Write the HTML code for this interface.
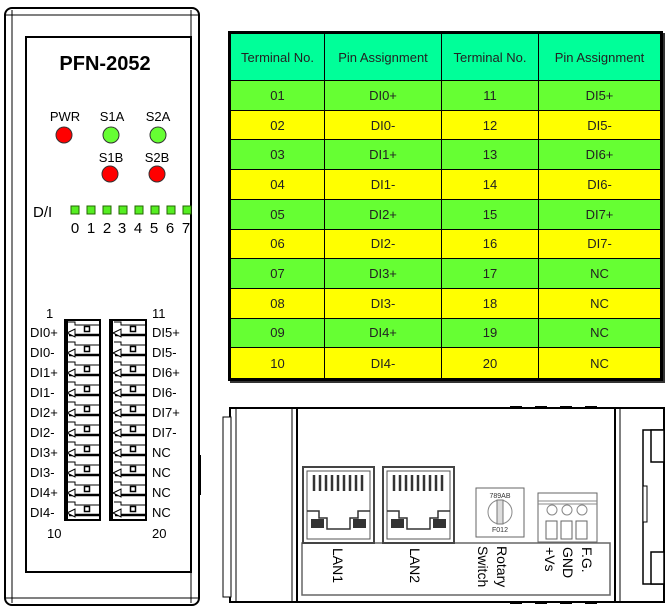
<!DOCTYPE html>
<html><head><meta charset="utf-8"><style>
body{margin:0;width:670px;height:608px;background:#fff;position:relative;overflow:hidden;font-family:"Liberation Sans",Arial,sans-serif}
svg{position:absolute;left:0;top:0}
table{position:absolute;left:228px;top:31px;width:435px;height:350px;border-collapse:collapse;border:3px solid #000;font-size:13px;box-shadow:2px 2px 0 #333;table-layout:fixed}
td{border:1px solid #000;text-align:center;color:#222;padding:0}
tr.h td{background:#00ff99;height:46px}
tr.g td{background:#66ff33}
tr.y td{background:#ffff00}
</style></head><body>
<svg width="670" height="608" viewBox="0 0 670 608" font-family="Liberation Sans, Arial, sans-serif">
<defs>
<g id="pL">
 <polyline points="68,2 75,2 75,5 100,5" fill="none" stroke="#000" stroke-width="1"/>
 <line x1="69" y1="15" x2="100" y2="15" stroke="#000" stroke-width="2.5"/>
 <polygon points="67,13 75,9 75,17" fill="#fff" stroke="#000" stroke-width="1"/>
 <rect x="84.5" y="6.5" width="5" height="5" fill="#fff" stroke="#000" stroke-width="1.5"/>
</g>
<g id="jack">
 <rect x="0" y="0" width="71" height="76" fill="#fff" stroke="#444" stroke-width="2"/>
 <rect x="4" y="4" width="63" height="68" fill="none" stroke="#555" stroke-width="1"/>
 <g stroke="#333" stroke-width="2.5">
  <line x1="11" y1="8" x2="11" y2="24"/><line x1="17" y1="8" x2="17" y2="24"/><line x1="23" y1="8" x2="23" y2="24"/><line x1="29" y1="8" x2="29" y2="24"/><line x1="35" y1="8" x2="35" y2="24"/><line x1="41" y1="8" x2="41" y2="24"/><line x1="47" y1="8" x2="47" y2="24"/><line x1="53" y1="8" x2="53" y2="24"/><line x1="59" y1="8" x2="59" y2="24"/>
 </g>
 <polyline points="4,44 16,44 16,51 24,51 24,62 47,62 47,51 55,51 55,44 67,44" fill="none" stroke="#333" stroke-width="1.5"/>
 <rect x="8" y="52" width="13" height="9" fill="#333"/><rect x="50" y="52" width="13" height="9" fill="#333"/>
</g>
</defs>
<rect x="5" y="8" width="194" height="597" rx="7" fill="#fff" stroke="#000" stroke-width="2"/>
<line x1="5" y1="15" x2="199" y2="15" stroke="#000" stroke-width="1"/>
<line x1="5" y1="598" x2="199" y2="598" stroke="#000" stroke-width="1"/>
<line x1="12" y1="10" x2="12" y2="603" stroke="#000" stroke-width="1"/>
<line x1="191" y1="10" x2="191" y2="603" stroke="#000" stroke-width="1"/>
<rect x="26" y="37" width="165" height="535" fill="#fff" stroke="#000" stroke-width="2"/>
<rect x="198" y="455" width="3" height="40" fill="#000"/>
<text x="105" y="70" font-size="20" font-weight="bold" text-anchor="middle">PFN-2052</text>
<g font-size="13" text-anchor="middle" fill="#000">
<text x="65" y="121">PWR</text><text x="112" y="121">S1A</text><text x="158" y="121">S2A</text>
<text x="111" y="162">S1B</text><text x="157" y="162">S2B</text>
</g>
<g stroke="#333" stroke-width="1">
<circle cx="64" cy="135" r="8" fill="#ff0000"/><circle cx="111" cy="135" r="8" fill="#66ff33"/><circle cx="158" cy="135" r="8" fill="#66ff33"/>
<circle cx="110" cy="174" r="8" fill="#ff0000"/><circle cx="157" cy="174" r="8" fill="#ff0000"/>
</g>
<text x="33" y="217" font-size="15">D/I</text>
<g fill="#55ee22" stroke="#226600" stroke-width="1">
<rect x="71" y="206" width="8" height="8"/><rect x="87" y="206" width="8" height="8"/><rect x="103" y="206" width="8" height="8"/><rect x="119" y="206" width="8" height="8"/><rect x="135" y="206" width="8" height="8"/><rect x="151" y="206" width="8" height="8"/><rect x="167" y="206" width="8" height="8"/><rect x="183" y="206" width="8" height="8"/>
</g>
<g font-size="15" text-anchor="middle"><text x="75" y="233">0</text><text x="91" y="233">1</text><text x="107" y="233">2</text><text x="122" y="233">3</text><text x="138" y="233">4</text><text x="154" y="233">5</text><text x="170" y="233">6</text><text x="186" y="233">7</text></g>
<rect x="65" y="320" width="35" height="200" fill="#fff" stroke="#000" stroke-width="2"/>
<rect x="110" y="320" width="36" height="200" fill="#fff" stroke="#000" stroke-width="2"/>
<line x1="67" y1="320" x2="67" y2="520" stroke="#000" stroke-width="2"/>
<line x1="112" y1="320" x2="112" y2="520" stroke="#000" stroke-width="2"/>
<g>
<use href="#pL" y="320"/><use href="#pL" y="340"/><use href="#pL" y="360"/><use href="#pL" y="380"/><use href="#pL" y="400"/><use href="#pL" y="420"/><use href="#pL" y="440"/><use href="#pL" y="460"/><use href="#pL" y="480"/><use href="#pL" y="500"/>
<use href="#pL" x="46" y="320"/><use href="#pL" x="46" y="340"/><use href="#pL" x="46" y="360"/><use href="#pL" x="46" y="380"/><use href="#pL" x="46" y="400"/><use href="#pL" x="46" y="420"/><use href="#pL" x="46" y="440"/><use href="#pL" x="46" y="460"/><use href="#pL" x="46" y="480"/><use href="#pL" x="46" y="500"/>
</g>
<g font-size="13">
<text x="46" y="318">1</text><text x="152" y="318">11</text>
<text x="30" y="337">DI0+</text><text x="30" y="357">DI0-</text><text x="30" y="377">DI1+</text><text x="30" y="397">DI1-</text><text x="30" y="417">DI2+</text><text x="30" y="437">DI2-</text><text x="30" y="457">DI3+</text><text x="30" y="477">DI3-</text><text x="30" y="497">DI4+</text><text x="30" y="517">DI4-</text>
<text x="152" y="337">DI5+</text><text x="152" y="357">DI5-</text><text x="152" y="377">DI6+</text><text x="152" y="397">DI6-</text><text x="152" y="417">DI7+</text><text x="152" y="437">DI7-</text><text x="152" y="457">NC</text><text x="152" y="477">NC</text><text x="152" y="497">NC</text><text x="152" y="517">NC</text>
<text x="47" y="538">10</text><text x="152" y="538">20</text>
</g>
<rect x="230" y="408" width="434" height="194" fill="#fff" stroke="#000" stroke-width="2"/>
<rect x="223" y="417" width="8" height="180" fill="#fff" stroke="#000" stroke-width="1"/>
<line x1="236" y1="408" x2="236" y2="602" stroke="#000" stroke-width="1"/>
<line x1="292" y1="408" x2="292" y2="602" stroke="#000" stroke-width="1"/>
<line x1="297" y1="408" x2="297" y2="602" stroke="#000" stroke-width="2"/>
<line x1="615" y1="408" x2="615" y2="602" stroke="#000" stroke-width="2"/>
<line x1="620" y1="408" x2="620" y2="602" stroke="#000" stroke-width="1"/>
<polyline points="664,430 643,430 643,584 664,584" fill="none" stroke="#000" stroke-width="1.5"/>
<rect x="651" y="430" width="13" height="32" fill="#fff" stroke="#000" stroke-width="1.5"/>
<rect x="651" y="552" width="13" height="32" fill="#fff" stroke="#000" stroke-width="1.5"/>
<rect x="643" y="486" width="4" height="36" fill="#fff" stroke="#000" stroke-width="1"/>
<g fill="#000"><rect x="510" y="406" width="12" height="3"/><rect x="535" y="406" width="12" height="3"/><rect x="560" y="406" width="12" height="3"/><rect x="585" y="406" width="12" height="3"/><rect x="510" y="601" width="12" height="3"/><rect x="535" y="601" width="12" height="3"/><rect x="560" y="601" width="12" height="3"/><rect x="585" y="601" width="12" height="3"/></g>
<rect x="302" y="543" width="308" height="52" fill="#fff" stroke="#666" stroke-width="1.5"/>
<use href="#jack" x="303" y="467"/>
<use href="#jack" x="383" y="467"/>
<rect x="476" y="488" width="48" height="49" fill="#fff" stroke="#666" stroke-width="1"/>
<circle cx="500" cy="512" r="12" fill="#fff" stroke="#888"/>
<rect x="497" y="500" width="6" height="24" fill="#ddd" stroke="#777"/>
<text x="500" y="498" font-size="7" text-anchor="middle" fill="#333">789AB</text>
<text x="500" y="532" font-size="7" text-anchor="middle" fill="#333">F012</text>
<rect x="538" y="493" width="59" height="49" fill="#fff" stroke="#666" stroke-width="1"/>
<line x1="538" y1="501" x2="597" y2="501" stroke="#888"/><line x1="538" y1="504" x2="597" y2="504" stroke="#888"/>
<circle cx="552" cy="510" r="5" fill="#fff" stroke="#888"/><circle cx="567" cy="510" r="5" fill="#fff" stroke="#888"/><circle cx="582" cy="510" r="5" fill="#fff" stroke="#888"/>
<g fill="#fff" stroke="#666"><rect x="546" y="521" width="11" height="18"/><rect x="561" y="521" width="11" height="18"/><rect x="576" y="521" width="11" height="18"/></g>
<g font-size="14" fill="#000">
<text transform="translate(333,548) rotate(90)">LAN1</text>
<text transform="translate(410,548) rotate(90)">LAN2</text>
<text transform="translate(497,546) rotate(90)">Rotary</text>
<text transform="translate(478,546) rotate(90)">Switch</text>
<text transform="translate(582,547) rotate(90)">F.G.</text>
<text transform="translate(563,547) rotate(90)">GND</text>
<text transform="translate(545,547) rotate(90)">+Vs</text>
</g>
</svg>
<table>
<colgroup><col style="width:95px"><col style="width:117px"><col style="width:97px"><col></colgroup>
<tr class="h"><td>Terminal No.</td><td>Pin Assignment</td><td>Terminal No.</td><td>Pin Assignment</td></tr>
<tr class="g"><td>01</td><td>DI0+</td><td>11</td><td>DI5+</td></tr>
<tr class="y"><td>02</td><td>DI0-</td><td>12</td><td>DI5-</td></tr>
<tr class="g"><td>03</td><td>DI1+</td><td>13</td><td>DI6+</td></tr>
<tr class="y"><td>04</td><td>DI1-</td><td>14</td><td>DI6-</td></tr>
<tr class="g"><td>05</td><td>DI2+</td><td>15</td><td>DI7+</td></tr>
<tr class="y"><td>06</td><td>DI2-</td><td>16</td><td>DI7-</td></tr>
<tr class="g"><td>07</td><td>DI3+</td><td>17</td><td>NC</td></tr>
<tr class="y"><td>08</td><td>DI3-</td><td>18</td><td>NC</td></tr>
<tr class="g"><td>09</td><td>DI4+</td><td>19</td><td>NC</td></tr>
<tr class="y"><td>10</td><td>DI4-</td><td>20</td><td>NC</td></tr>
</table>
</body></html>
